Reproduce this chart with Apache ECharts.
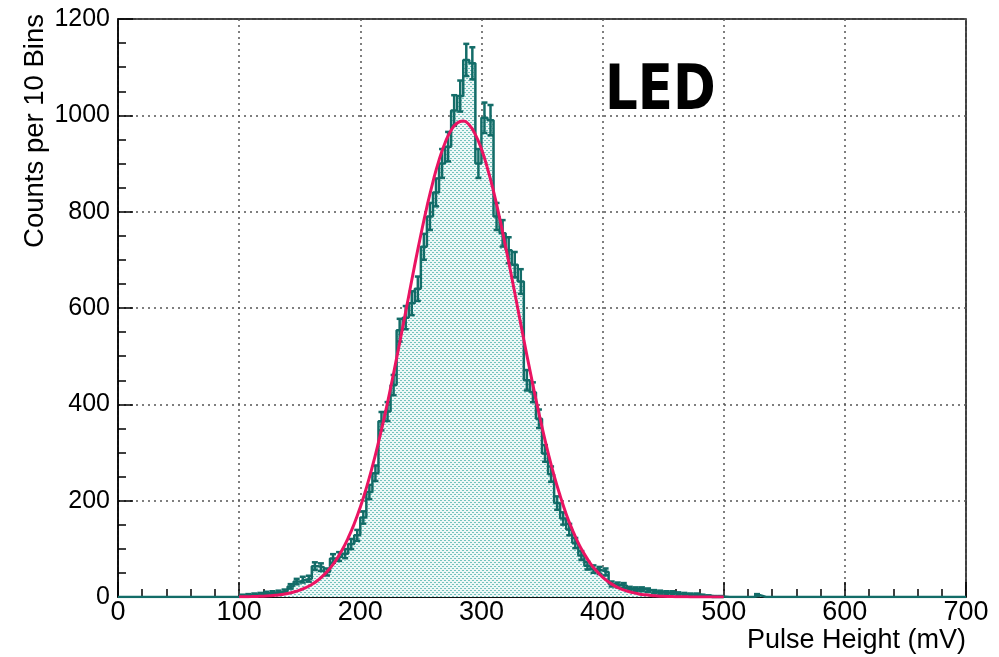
<!DOCTYPE html>
<html>
<head>
<meta charset="utf-8">
<script src="https://cdn.jsdelivr.net/npm/echarts@6/dist/echarts.min.js"></script>
<style>
html,body{margin:0;padding:0;background:#fff;}
#chart{width:999px;height:657px;}
</style>
</head>
<body>
<div id="chart"></div>
<script>
// ---- data ----
const BIN_WIDTH = 5;            // mV per bin
const HIST_FIRST_EDGE = 100;    // left edge of first listed bin (mV)
const COUNTS = [
  3, 4, 5, 6, 8, 9, 10, 12, 22, 32,
  36, 38, 64, 62, 52, 80, 84, 90, 110, 128,
  165, 218, 257, 365, 385, 440, 554, 580, 610, 640,
  727, 790, 840, 900, 935, 1010, 1040, 1115, 1108, 900,
  995, 990, 790, 755, 720, 690, 655, 450, 425, 370,
  298, 255, 195, 163, 140, 112, 86, 65, 58, 55,
  52, 27, 25, 24, 17, 16, 16, 14, 11, 10,
  9, 9, 7, 6, 5, 5, 3, 2, 1, 1
];
const EXTRA_BIN_EDGES = [525];
const EXTRA_BIN_COUNTS = [4];
const X_RANGE = [0, 700];

const FIT_X = [];
for (let v = 100; v <= 500; v += 5) FIT_X.push(v);
const FIT_Y = [
  0.3, 0.5, 0.8, 1.2, 1.7, 2.5, 3.6, 5.2, 7.4, 10.3,
  14.2, 19.4, 26.1, 34.8, 45.8, 59.7, 76.7, 97.5, 122.5, 152,
  186.5, 226, 271, 321, 375, 434, 496, 560, 625, 690,
  752, 810, 862, 907, 943, 969, 984, 988, 980, 960,
  930, 890, 842, 787, 727, 664, 599, 534, 471, 410,
  353, 300, 252, 210, 172, 140, 112, 89, 69.5, 53.8,
  41.1, 31.1, 23.2, 17.1, 12.5, 9.0, 6.4, 4.5, 3.1, 2.2,
  1.5, 1.0, 0.65, 0.43, 0.28, 0.18, 0.11, 0.07, 0.04, 0.02, 0.01
];
const X_TICKS = [0, 100, 200, 300, 400, 500, 600, 700];
const Y_TICKS = [0, 200, 400, 600, 800, 1000, 1200];
const X_TITLE = 'Pulse Height (mV)';
const Y_TITLE = 'Counts per 10 Bins';
const LABEL = 'LED';

// ---- build histogram step data ----
const binMap = {};
COUNTS.forEach((c, i) => { binMap[HIST_FIRST_EDGE + i * BIN_WIDTH] = c; });
EXTRA_BIN_EDGES.forEach((e, i) => { binMap[e] = EXTRA_BIN_COUNTS[i]; });
const stepData = [];
const errData = [];
for (let e = X_RANGE[0]; e < X_RANGE[1]; e += BIN_WIDTH) {
  const c = binMap[e] || 0;
  stepData.push([e, c]);
  if (c > 0) errData.push([e + BIN_WIDTH / 2, c, Math.sqrt(c)]);
}
stepData.push([X_RANGE[1], 0]);

// dotted fill pattern
const pat = document.createElement('canvas');
pat.width = 4; pat.height = 4;
const pc = pat.getContext('2d');
pc.fillStyle = '#eef8f7';
pc.fillRect(0, 0, 4, 4);
pc.fillStyle = '#74c3bd';
pc.fillRect(0, 0, 2, 1);
pc.fillRect(2, 2, 2, 1);

const HIST_COLOR = '#136c68';
const FIT_COLOR = '#ea1462';
const FONT = 'Liberation Sans, Arial, sans-serif';

const chart = echarts.init(document.getElementById('chart'), null, {renderer: 'canvas'});
chart.setOption({
  animation: false,
  backgroundColor: '#fff',
  grid: {left: 118, right: 33, top: 19, bottom: 60, show: true, borderColor: '#000', borderWidth: 1.5, backgroundColor: 'transparent'},
  xAxis: {
    type: 'value', min: X_TICKS[0], max: X_TICKS[X_TICKS.length - 1], interval: 100,
    axisLine: {show: true, onZero: false, lineStyle: {color: '#000', width: 1.5}},
    axisTick: {show: true, inside: true, length: 15, lineStyle: {color: '#000', width: 1.5}},
    minorTick: {show: true, splitNumber: 5, length: 8, lineStyle: {color: '#000', width: 1.5}},
    splitLine: {show: true, lineStyle: {color: '#555', width: 1.5, type: [2, 4]}},
    axisLabel: {color: '#000', fontSize: 27, fontFamily: FONT, margin: 2, formatter: v => String(v)}
  },
  yAxis: {
    type: 'value', min: Y_TICKS[0], max: Y_TICKS[Y_TICKS.length - 1], interval: 200,
    axisLine: {show: true, lineStyle: {color: '#000', width: 1.5}},
    axisTick: {show: true, inside: true, length: 15, lineStyle: {color: '#000', width: 1.5}},
    minorTick: {show: true, splitNumber: 4, length: 8, lineStyle: {color: '#000', width: 1.5}},
    splitLine: {show: true, lineStyle: {color: '#555', width: 1.5, type: [2, 4]}},
    axisLabel: {color: '#000', fontSize: 25, fontFamily: FONT, margin: 8, formatter: v => String(v)}
  },
  series: [
    {
      type: 'line', step: 'end', data: stepData, symbol: 'none', z: 2,
      lineStyle: {color: HIST_COLOR, width: 2.5},
      areaStyle: {color: {image: pat, repeat: 'repeat'}, opacity: 1}
    },
    {
      type: 'custom', z: 3, data: errData,
      renderItem: function (params, api) {
        const x = api.value(0), y = api.value(1), e = api.value(2);
        const top = api.coord([x, y + e]);
        const bot = api.coord([x, Math.max(0, y - e)]);
        const st = {stroke: HIST_COLOR, lineWidth: 2.5};
        return {type: 'group', children: [
          {type: 'line', shape: {x1: top[0], y1: top[1], x2: bot[0], y2: bot[1]}, style: st},
          {type: 'line', shape: {x1: top[0] - 3, y1: top[1], x2: top[0] + 3, y2: top[1]}, style: st},
          {type: 'line', shape: {x1: bot[0] - 3, y1: bot[1], x2: bot[0] + 3, y2: bot[1]}, style: st}
        ]};
      }
    },
    {
      type: 'line', data: FIT_X.map((x, i) => [x, FIT_Y[i]]), symbol: 'none', smooth: true, z: 4,
      lineStyle: {color: FIT_COLOR, width: 3}
    }
  ],
  graphic: [
    {type: 'text', x: 966, y: 627, style: {text: X_TITLE, fill: '#000', font: '27px ' + FONT, align: 'right', verticalAlign: 'top'}},
    {type: 'text', x: 21, y: 14, rotation: Math.PI / 2, style: {text: Y_TITLE, fill: '#000', font: '27.5px ' + FONT, align: 'right', verticalAlign: 'top'}},
    {type: 'text', x: 605, y: 62, scaleX: 0.83, style: {text: LABEL, fill: '#000', font: 'bold 62px DejaVu Sans, sans-serif', verticalAlign: 'top'}}
  ]
});
</script>
</body>
</html>
